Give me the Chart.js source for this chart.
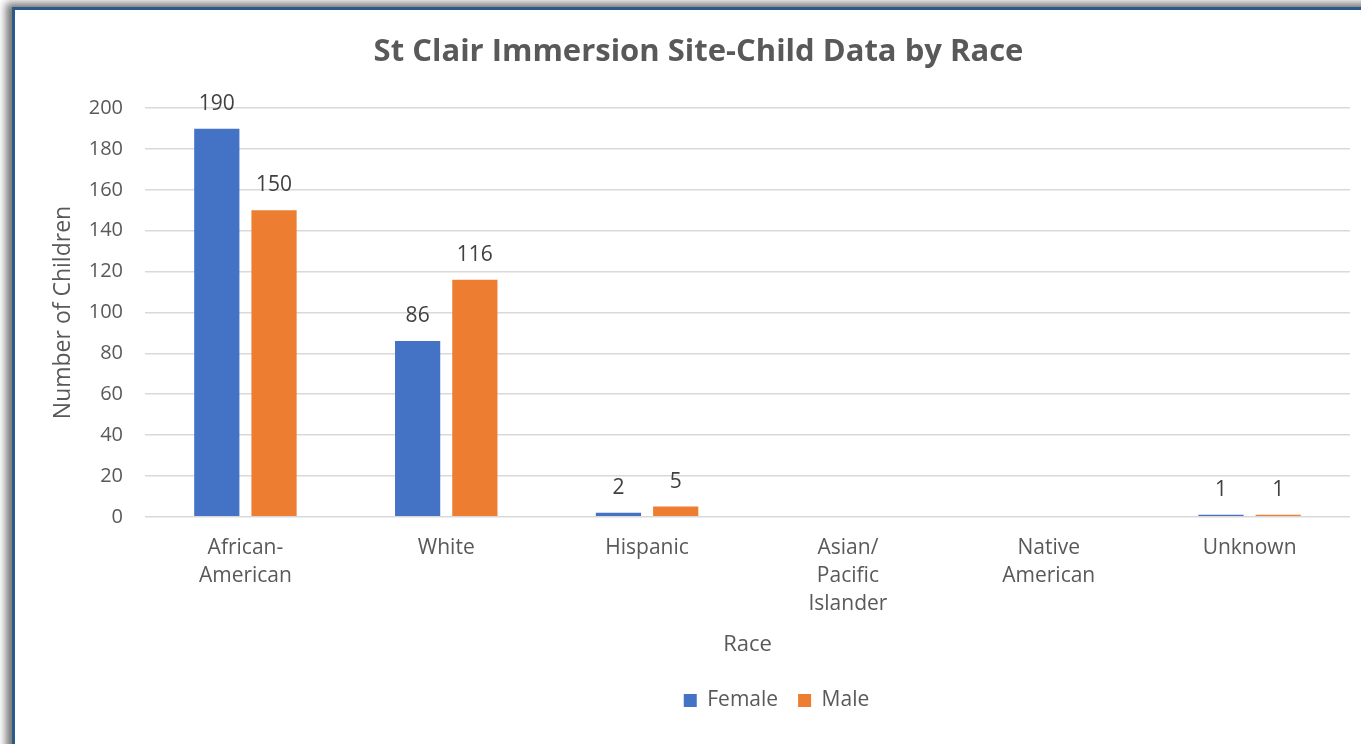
<!DOCTYPE html>
<html>
<head>
<meta charset="utf-8">
<script src="https://cdn.jsdelivr.net/npm/chart.js@4"></script>
<style>
  html, body { margin: 0; padding: 0; background: #fff; overflow: hidden; }
  body { width: 1361px; height: 744px; position: relative; }
  .frame {
    position: absolute; left: 12px; top: 7px; width: 1400px; height: 800px;
    border-left: 3px solid #2b5a8a; border-top: 3px solid #2b5a8a;
    box-shadow: -6px -4px 8px rgba(0,0,0,0.55);
    background: #fff;
  }
  #chart { position: absolute; left: 15px; top: 10px; }
</style>
</head>
<body>
<div class="frame"></div>
<canvas id="chart" width="1346" height="734"></canvas>
<script>
// data
const categories = [['African-', 'American'], 'White', 'Hispanic', ['Asian/', 'Pacific', 'Islander'], ['Native', 'American'], 'Unknown'];
const female = [190, 86, 2, 0, 0, 1];
const male = [150, 116, 5, 0, 0, 1];
const yTicks = [0, 20, 40, 60, 80, 100, 120, 140, 160, 180, 200];

const font = '"Open Sans", "Noto Sans", sans-serif';
const grey = '#595959';

// labels above the bars, skip zeros like the original
const barLabels = {
  id: 'barLabels',
  afterDatasetsDraw(chart) {
    const ctx = chart.ctx;
    ctx.save();
    ctx.font = '21px ' + font;
    ctx.fillStyle = '#404040';
    ctx.textAlign = 'center';
    ctx.textBaseline = 'middle';
    chart.data.datasets.forEach((ds, i) => {
      chart.getDatasetMeta(i).data.forEach((bar, j) => {
        const v = ds.data[j];
        if (!v) return;
        ctx.fillText(String(v), bar.x, bar.y - 25);
      });
    });
    ctx.restore();
  }
};

// the original legend sits a bit right of centre
const legendShift = {
  id: 'legendShift',
  afterLayout(chart) {
    chart.legend.left += 78;
    chart.legend.right += 78;
  }
};

new Chart(document.getElementById('chart'), {
  type: 'bar',
  data: {
    labels: categories,
    datasets: [
      { label: 'Female', data: female, backgroundColor: '#4472C4' },
      { label: 'Male', data: male, backgroundColor: '#ED7D31' }
    ]
  },
  options: {
    responsive: false,
    animation: false,
    categoryPercentage: 0.57,
    barPercentage: 0.79,
    layout: { padding: { left: 32, right: 11, top: 0, bottom: 23 } },
    plugins: {
      title: {
        display: true,
        text: 'St Clair Immersion Site-Child Data by Race',
        color: grey,
        font: { family: font, size: 31, weight: 'bold' },
        padding: { top: 24, bottom: 37 }
      },
      legend: {
        position: 'bottom',
        labels: {
          color: grey,
          font: { family: font, size: 21 },
          boxWidth: 13, boxHeight: 13,
          padding: 20
        }
      },
      tooltip: { enabled: false }
    },
    scales: {
      x: {
        grid: { display: false },
        border: { display: false },
        ticks: { color: grey, font: { family: font, size: 21, lineHeight: 1.33 }, maxRotation: 0, padding: 9 },
        title: { display: true, text: 'Race', color: grey, font: { family: font, size: 22 }, padding: { top: 5, bottom: 12 } }
      },
      y: {
        min: 0, max: 200,
        afterBuildTicks(axis) { axis.ticks = yTicks.map(v => ({ value: v })); },
        afterFit(axis) { axis.width = 98; },
        grid: { color: '#d9d9d9', lineWidth: 1.5, drawTicks: false },
        border: { display: false },
        ticks: { color: grey, font: { family: font, size: 20 }, padding: 22 },
        title: { display: true, text: 'Number of Children', color: grey, font: { family: font, size: 23 }, padding: { top: 3, bottom: 4 } }
      }
    }
  },
  plugins: [barLabels, legendShift]
});
</script>
</body>
</html>
